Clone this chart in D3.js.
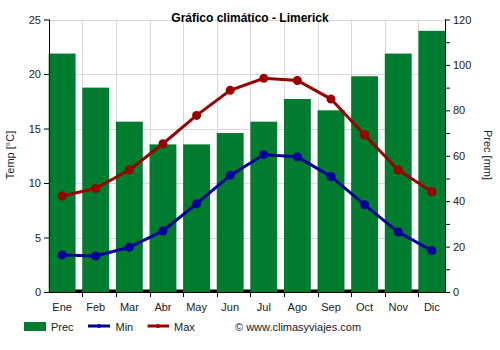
<!DOCTYPE html>
<html><head><meta charset="utf-8">
<script src="https://cdn.jsdelivr.net/npm/d3@7/dist/d3.min.js"></script>
<style>
body{margin:0;background:#fff;}
text{font-family:"Liberation Sans",Arial,sans-serif;}
</style></head>
<body>
<svg id="c" width="500" height="350"></svg>
<script>
const months = ["Ene","Feb","Mar","Abr","May","Jun","Jul","Ago","Sep","Oct","Nov","Dic"];
const prec = [105,90,75,65,65,70,75,85,80,95,105,115];
const tmin = [3.4,3.3,4.1,5.6,8.1,10.7,12.6,12.4,10.6,8.0,5.5,3.8];
const tmax = [8.8,9.5,11.2,13.6,16.2,18.5,19.6,19.4,17.7,14.4,11.2,9.2];
const tempTicks = [0,5,10,15,20,25];
const precTicks = [0,20,40,60,80,100,120];
const precMinor = [0,10,20,30,40,50,60,70,80,90,100,110,120];

const svg = d3.select("#c");
const L = 49, R = 445, T = 19.5, B = 292;
const x = d3.scaleBand().domain(months).range([48.7, 452]).padding(0);
const bw = x.bandwidth();
const cx = m => x(m) + bw*0.4;
const yT = d3.scaleLinear().domain([0,25]).range([B,T]);
const yP = d3.scaleLinear().domain([0,120]).range([B,T]);

// grid
const g = svg.append("g");
g.selectAll("line.h").data(tempTicks).join("line")
  .attr("x1",L).attr("x2",R).attr("y1",d=>Math.round(yT(d))+0.5).attr("y2",d=>Math.round(yT(d))+0.5)
  .attr("stroke","#d9d9d9").attr("stroke-width",1);
g.selectAll("line.v").data(months.slice(1)).join("line")
  .attr("x1",d=>Math.round(x(d))+0.5).attr("x2",d=>Math.round(x(d))+0.5).attr("y1",T).attr("y2",B)
  .attr("stroke","#d9d9d9").attr("stroke-width",1);

// black base strip
svg.append("rect").attr("x",L).attr("y",B-2.5).attr("width",R-L).attr("height",2.5).attr("fill","#000");

// bars
svg.selectAll("rect.bar").data(months).join("rect")
  .attr("x",d=>x(d)).attr("width",bw*0.8)
  .attr("y",(d,i)=>yP(prec[i])).attr("height",(d,i)=>B-yP(prec[i]))
  .attr("fill","#007c2f");

// axes
const axL = svg.append("g").attr("transform",`translate(${L},0)`)
  .call(d3.axisLeft(yT).tickValues(tempTicks).tickSize(5).tickPadding(3));
const axR = svg.append("g").attr("transform",`translate(${R},0)`)
  .call(d3.axisRight(yP).tickValues(precMinor).tickSize(5).tickPadding(3)
    .tickFormat(d=>precTicks.includes(d)?d:""));
const axB = svg.append("g").attr("transform",`translate(0,${B})`)
  .call(d3.axisBottom(x).tickSize(0).tickPadding(11));
axB.selectAll(".tick text").attr("transform",`translate(${-bw*0.1},0)`);
axB.select(".domain").attr("d",`M${L},0.5H${R}`);
svg.append("g").selectAll("line").data(months.slice(1)).join("line")
  .attr("x1",d=>Math.round(x(d))+0.5).attr("x2",d=>Math.round(x(d))+0.5)
  .attr("y1",B).attr("y2",B+5).attr("stroke","#000");
[axL,axR,axB].forEach(a=>{
  a.selectAll("text").attr("font-size",11).attr("fill","#222").attr("font-family","Liberation Sans, Arial, sans-serif");
  a.selectAll("path,line").attr("stroke","#000");
});
axL.select(".domain").attr("d",`M0.5,${T}V${B}`);
axR.select(".domain").attr("d",`M0.5,${T}V${B}`);

// lines
function series(data,color){
  const line = d3.line().x((d,i)=>cx(months[i])).y(d=>yT(d));
  svg.append("path").datum(data).attr("d",line).attr("fill","none")
    .attr("stroke",color).attr("stroke-width",3);
  svg.append("g").selectAll("circle").data(data).join("circle")
    .attr("cx",(d,i)=>cx(months[i])).attr("cy",d=>yT(d)).attr("r",4.5).attr("fill",color);
}
series(tmin,"#000099");
series(tmax,"#990000");

// title & labels
svg.append("text").attr("x",250).attr("y",22).attr("text-anchor","middle")
  .attr("font-size",12).attr("font-weight","bold").text("Gráfico climático - Limerick");
svg.append("text").attr("transform","translate(14,155) rotate(-90)").attr("text-anchor","middle")
  .attr("font-size",11).attr("fill","#222").text("Temp [°C]");
svg.append("text").attr("transform","translate(484,155) rotate(90)").attr("text-anchor","middle")
  .attr("font-size",11).attr("fill","#222").text("Prec [mm]");

// legend
const lg = svg.append("g");
lg.append("rect").attr("x",24).attr("y",322).attr("width",22).attr("height",9).attr("fill","#007c2f");
lg.append("text").attr("x",51).attr("y",330.5).attr("font-size",11).attr("fill","#222").text("Prec");
lg.append("line").attr("x1",88).attr("x2",110).attr("y1",326).attr("y2",326).attr("stroke","#000099").attr("stroke-width",3);
lg.append("circle").attr("cx",99).attr("cy",326).attr("r",2).attr("fill","#000099");
lg.append("text").attr("x",115.5).attr("y",330.5).attr("font-size",11).attr("fill","#222").text("Min");
lg.append("line").attr("x1",147.5).attr("x2",169).attr("y1",326).attr("y2",326).attr("stroke","#990000").attr("stroke-width",3);
lg.append("circle").attr("cx",158).attr("cy",326).attr("r",2).attr("fill","#990000");
lg.append("text").attr("x",174).attr("y",330.5).attr("font-size",11).attr("fill","#222").text("Max");
lg.append("text").attr("x",235).attr("y",330.5).attr("font-size",11).attr("fill","#222").text("© www.climasyviajes.com");
</script>
</body></html>
